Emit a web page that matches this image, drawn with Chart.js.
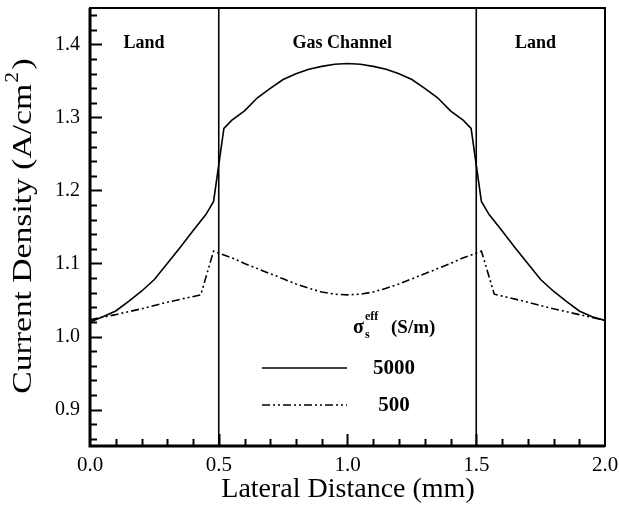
<!DOCTYPE html>
<html>
<head>
<meta charset="utf-8">
<script src="https://cdn.jsdelivr.net/npm/chart.js@4/dist/chart.umd.min.js"></script>
<style>
  html, body { margin: 0; padding: 0; background: #fff; }
  #wrap { width: 619px; height: 506px; }
</style>
</head>
<body>
<div id="wrap"><canvas id="CurrentChart" width="619" height="506"></canvas></div>
<script>
// lateral positions (mm) and current density (A/cm2)
const xSolid = [0, 0.05, 0.1, 0.15, 0.2, 0.25, 0.3, 0.35, 0.4, 0.45, 0.48, 0.52, 0.55, 0.6, 0.65, 0.7, 0.75, 0.8, 0.85, 0.9, 0.95, 1.0,
    1.05, 1.1, 1.15, 1.2, 1.25, 1.3, 1.35, 1.4, 1.45, 1.48, 1.52, 1.55, 1.6, 1.65, 1.7, 1.75, 1.8, 1.85, 1.9, 1.95, 2.0];
const ySolid = [1.020, 1.027, 1.035, 1.048, 1.062, 1.078, 1.100, 1.122, 1.145, 1.167, 1.185, 1.285, 1.296, 1.309, 1.327, 1.340, 1.352, 1.360, 1.366, 1.370, 1.373, 1.374,
    1.373, 1.370, 1.366, 1.360, 1.352, 1.340, 1.327, 1.309, 1.296, 1.285, 1.185, 1.167, 1.145, 1.122, 1.100, 1.078, 1.062, 1.048, 1.035, 1.027, 1.022];

const xDash = [0, 0.1, 0.2, 0.3, 0.43, 0.48, 0.5, 0.55, 0.6, 0.65, 0.7, 0.75, 0.8, 0.85, 0.9, 0.95, 1.0,
    1.05, 1.1, 1.15, 1.2, 1.25, 1.3, 1.35, 1.4, 1.45, 1.5, 1.52, 1.57, 1.7, 1.8, 1.9, 2.0];
const yDash = [1.023, 1.030, 1.038, 1.047, 1.057, 1.117, 1.114, 1.108, 1.100, 1.093, 1.086, 1.079, 1.072, 1.066, 1.061, 1.058, 1.057,
    1.058, 1.061, 1.066, 1.072, 1.079, 1.086, 1.093, 1.100, 1.108, 1.114, 1.117, 1.058, 1.047, 1.038, 1.030, 1.022];

const channelEdges = [0.5, 1.5];
const xTicks = [0, 0.5, 1.0, 1.5, 2.0];
const yTicks = [0.9, 1.0, 1.1, 1.2, 1.3, 1.4];
const seriesLabels = ["5000", "500"];
const regionLabels = [["Land", 0.21], ["Gas Channel", 0.98], ["Land", 1.73]];

const SERIF = "'Liberation Serif', 'DejaVu Serif', serif";

function pts(xs, ys) {
    return xs.map((x, i) => ({ x: x, y: ys[i] }));
}

const edgeSets = channelEdges.map(e => ({
    data: [{ x: e, y: 0.85 }, { x: e, y: 1.45 }],
    borderColor: "#000",
    borderWidth: 1.6,
    pointRadius: 0,
    showLine: true,
}));

const decorations = {
    id: "decorations",
    afterDatasetsDraw(chart) {
        const ctx = chart.ctx;
        const a = chart.chartArea;
        const xs = chart.scales.x, ys = chart.scales.y;
        ctx.save();
        ctx.strokeStyle = "#000";
        ctx.fillStyle = "#000";

        // frame
        ctx.lineWidth = 2;
        ctx.strokeRect(a.left, a.top, a.right - a.left, a.bottom - a.top);
        ctx.lineWidth = 3;
        ctx.beginPath();
        ctx.moveTo(a.left, a.top); ctx.lineTo(a.left, a.bottom); ctx.lineTo(a.right, a.bottom);
        ctx.stroke();

        // inward ticks
        ctx.lineWidth = 2;
        ctx.beginPath();
        for (let v = 0.86; v < 1.45; v += 0.02) {
            const major = Math.abs(v * 10 - Math.round(v * 10)) < 1e-6;
            const y = Math.round(ys.getPixelForValue(v)) + 0.5;
            ctx.moveTo(a.left, y);
            ctx.lineTo(a.left + (major ? 12 : 7), y);
        }
        for (let v = 0.1; v < 2.0; v += 0.1) {
            const major = Math.abs(v * 2 - Math.round(v * 2)) < 1e-6;
            const x = Math.round(xs.getPixelForValue(v)) + 0.5;
            ctx.moveTo(x, a.bottom);
            ctx.lineTo(x, a.bottom - (major ? 12 : 7));
        }
        ctx.stroke();

        // region labels
        ctx.font = "bold 18px " + SERIF;
        ctx.textAlign = "center";
        ctx.textBaseline = "middle";
        regionLabels.forEach(r => ctx.fillText(r[0], xs.getPixelForValue(r[1]), 43));

        // legend
        ctx.textAlign = "left";
        ctx.textBaseline = "alphabetic";
        ctx.font = "bold 20px " + SERIF;
        ctx.fillText("\u03c3", 353, 333);
        ctx.font = "bold 12px " + SERIF;
        ctx.fillText("eff", 365, 320);
        ctx.fillText("s", 365, 338);
        ctx.font = "bold 19px " + SERIF;
        ctx.fillText("(S/m)", 391, 333);

        ctx.font = "bold 21px " + SERIF;
        ctx.textAlign = "center";
        ctx.textBaseline = "middle";
        ctx.lineWidth = 1.5;
        chart.data.datasets.slice(0, 2).forEach((ds, i) => {
            const y = 368 + i * 37;
            ctx.setLineDash(ds.borderDash || []);
            ctx.beginPath();
            ctx.moveTo(262, y); ctx.lineTo(347, y);
            ctx.stroke();
            ctx.setLineDash([]);
            ctx.fillText(seriesLabels[i], 394, y + 1);
        });

        // axis titles
        ctx.font = "28px " + SERIF;
        ctx.textAlign = "center";
        ctx.textBaseline = "middle";
        ctx.fillText("Lateral Distance (mm)", 348, 490);

        ctx.translate(24, 226);
        ctx.rotate(-Math.PI / 2);
        ctx.scale(1.2, 1);
        const main = "Current Density (A/cm";
        const w1 = ctx.measureText(main).width;
        ctx.font = "18px " + SERIF;
        const w2 = ctx.measureText("2").width;
        ctx.font = "28px " + SERIF;
        const w3 = ctx.measureText(")").width;
        const total = w1 + w2 + 3 + w3;
        ctx.textAlign = "left";
        let x0 = -total / 2;
        ctx.fillText(main, x0, 0);
        ctx.font = "18px " + SERIF;
        ctx.fillText("2", x0 + w1 + 1, -11);
        ctx.font = "28px " + SERIF;
        ctx.fillText(")", x0 + w1 + w2 + 3, 0);
        ctx.restore();
    },
};

new Chart(document.getElementById("CurrentChart"), {
    type: "scatter",
    data: {
        datasets: [
            {
                label: seriesLabels[0],
                data: pts(xSolid, ySolid),
                borderColor: "#000",
                borderWidth: 1.6,
                pointRadius: 0,
                showLine: true,
            },
            {
                label: seriesLabels[1],
                data: pts(xDash, yDash),
                borderColor: "#000",
                borderWidth: 1.6,
                borderDash: [8, 3, 2, 3, 2, 3],
                pointRadius: 0,
                showLine: true,
            },
            ...edgeSets,
        ],
    },
    options: {
        responsive: false,
        animation: false,
        layout: {
            padding: { left: 0, top: 8, right: 14, bottom: 0 },
        },
        plugins: {
            legend: { display: false },
            tooltip: { enabled: false },
        },
        scales: {
            x: {
                type: "linear",
                min: 0,
                max: 2,
                afterFit: s => { s.height = 60; s.paddingLeft = 0; s.paddingRight = 0; },
                afterBuildTicks: s => { s.ticks = xTicks.map(v => ({ value: v })); },
                grid: { display: false, drawTicks: false },
                border: { display: false },
                ticks: {
                    padding: 7,
                    color: "#000",
                    font: { family: SERIF, size: 21 },
                    callback: v => v.toFixed(1),
                    maxRotation: 0,
                    autoSkip: false,
                },
            },
            y: {
                min: 0.85,
                max: 1.45,
                afterFit: s => { s.width = 90; s.paddingTop = 0; s.paddingBottom = 0; },
                afterBuildTicks: s => { s.ticks = yTicks.map(v => ({ value: v })); },
                grid: { display: false, drawTicks: false },
                border: { display: false },
                ticks: {
                    padding: 10,
                    color: "#000",
                    font: { family: SERIF, size: 20 },
                    callback: v => v.toFixed(1),
                    autoSkip: false,
                },
            },
        },
    },
    plugins: [decorations],
});
</script>
</body>
</html>
